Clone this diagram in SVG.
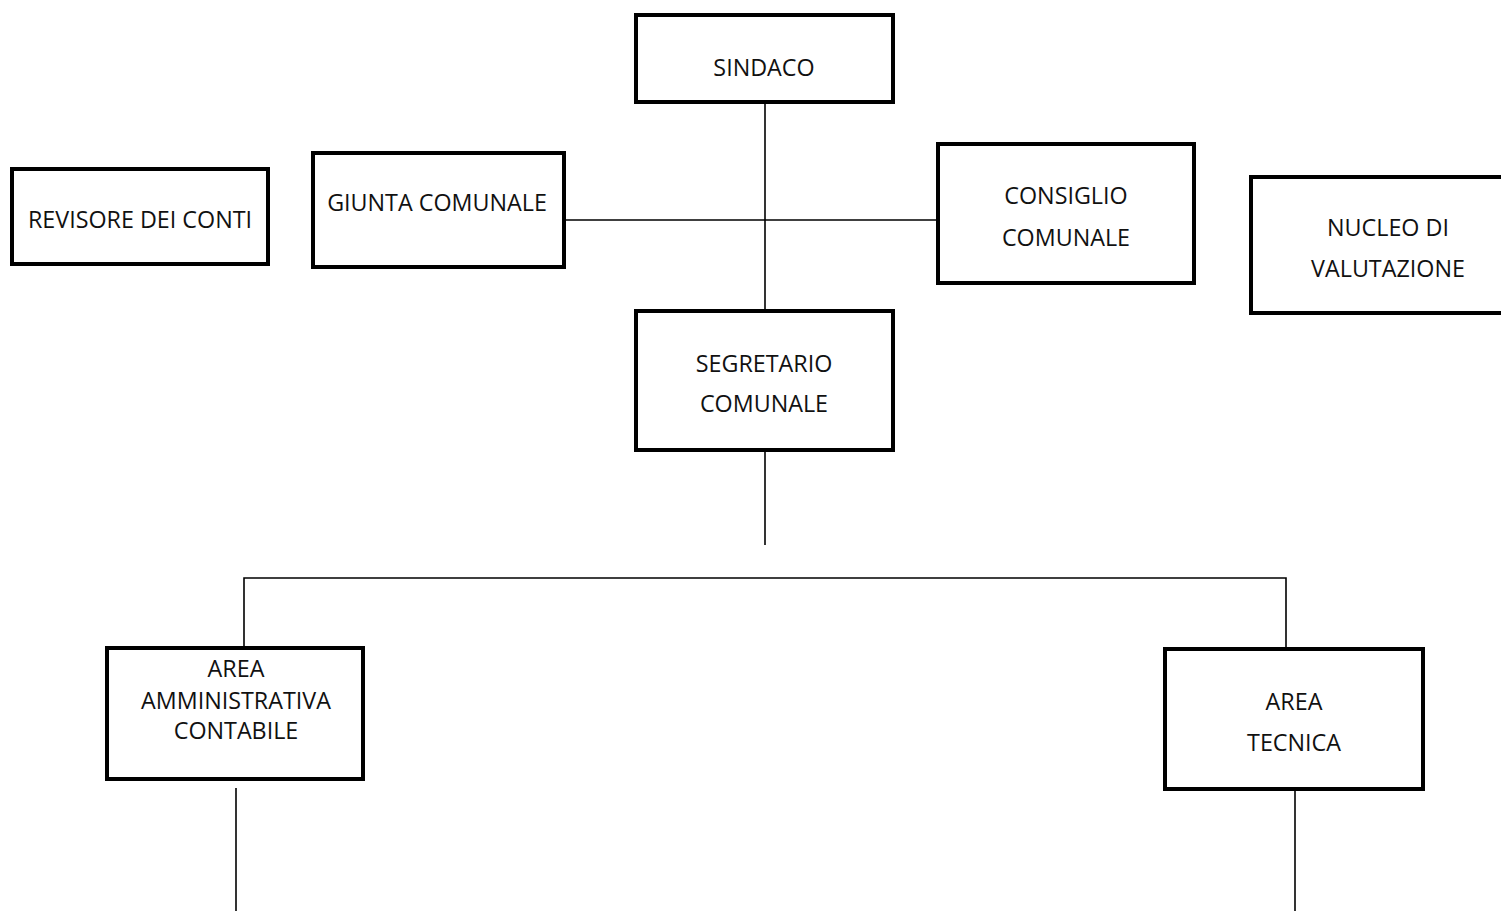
<svg xmlns="http://www.w3.org/2000/svg" width="1501" height="911" viewBox="0 0 1501 911">
<style>
.box{fill:#fff;stroke:#000;stroke-width:4}
.lbl{font-family:"Open Sans","Noto Sans",sans-serif;font-size:23.3px;fill:#111;text-anchor:middle}
.con{fill:none;stroke:#000;stroke-width:1.6}
</style>
<rect width="1501" height="911" fill="#fff"/>
<g id="connectors">
<line class="con" x1="765" y1="104" x2="765" y2="309"/>
<line class="con" x1="566" y1="220" x2="936" y2="220"/>
<line class="con" x1="765" y1="452" x2="765" y2="545"/>
<polyline class="con" points="244,647 244,578 1286,578 1286,647"/>
<line class="con" x1="236" y1="788" x2="236" y2="911"/>
<line class="con" x1="1295" y1="791" x2="1295" y2="911"/>
</g>
<g id="sindaco"><rect class="box" x="636" y="15" width="257" height="87"/><text class="lbl" x="764" y="76">SINDACO</text></g>
<g id="revisore"><rect class="box" x="12" y="169" width="256" height="95"/><text class="lbl" x="140" y="228">REVISORE DEI CONTI</text></g>
<g id="giunta"><rect class="box" x="313" y="153" width="251" height="114"/><text class="lbl" x="437" y="211">GIUNTA COMUNALE</text></g>
<g id="consiglio"><rect class="box" x="938" y="144" width="256" height="139"/><text class="lbl" x="1066" y="204">CONSIGLIO</text><text class="lbl" x="1066" y="246">COMUNALE</text></g>
<g id="nucleo"><rect class="box" x="1251" y="177" width="300" height="136"/><text class="lbl" x="1388" y="236">NUCLEO DI</text><text class="lbl" x="1388" y="277">VALUTAZIONE</text></g>
<g id="segretario"><rect class="box" x="636" y="311" width="257" height="139"/><text class="lbl" x="764" y="372">SEGRETARIO</text><text class="lbl" x="764" y="412">COMUNALE</text></g>
<g id="area-amm"><rect class="box" x="107" y="648" width="256" height="131"/><text class="lbl" x="236" y="677">AREA</text><text class="lbl" x="236" y="709">AMMINISTRATIVA</text><text class="lbl" x="236" y="739">CONTABILE</text></g>
<g id="area-tec"><rect class="box" x="1165" y="649" width="258" height="140"/><text class="lbl" x="1294" y="710">AREA</text><text class="lbl" x="1294" y="751">TECNICA</text></g>
</svg>
